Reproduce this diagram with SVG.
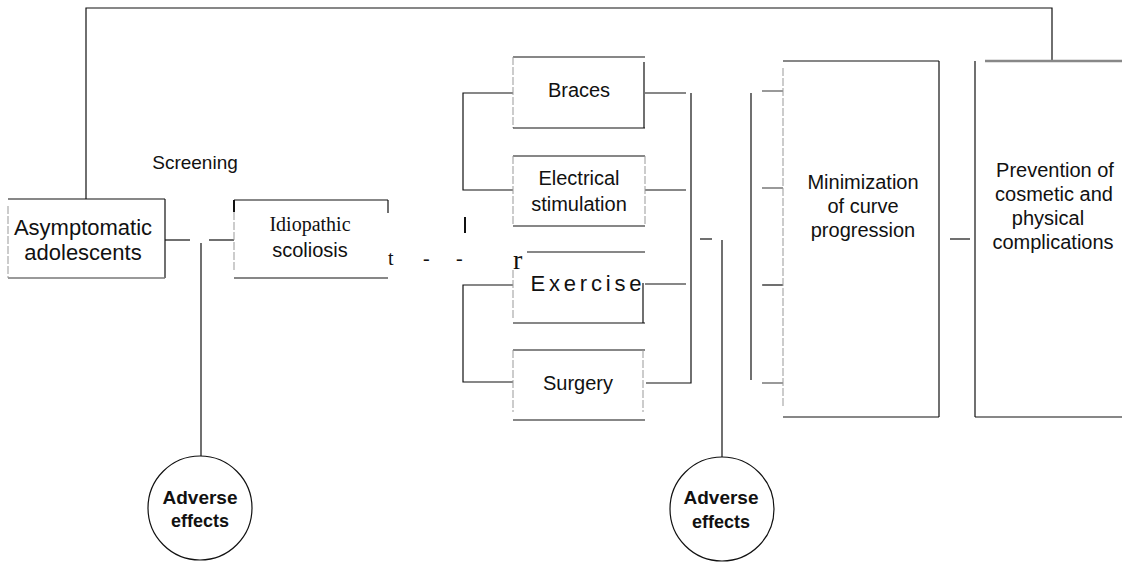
<svg xmlns="http://www.w3.org/2000/svg" width="1122" height="563" viewBox="0 0 1122 563">
<defs>
<style>
.ln{fill:none;stroke:#111;stroke-width:1.2}
.gl{fill:none;stroke:#777;stroke-width:1.5}
.fl{fill:none;stroke:#999;stroke-width:1;stroke-dasharray:8 2}
.t{font-family:"Liberation Sans",Arial,sans-serif;fill:#111;text-anchor:middle}
.s{font-family:"Liberation Serif","Times New Roman",serif;fill:#111}
.c{fill:#fff;stroke:#111;stroke-width:1.2}
.b{font-family:"Liberation Sans",Arial,sans-serif;font-weight:bold;font-size:19px;fill:#111;text-anchor:middle}
</style>
</defs>
<rect width="1122" height="563" fill="#fff"/>
<g id="connectors">
<polyline class="ln" points="86,199 86,8 1052,8 1052,61"/>
<line class="ln" x1="165" y1="240" x2="190" y2="240"/>
<line class="ln" x1="209" y1="240" x2="234" y2="240"/>
<line class="ln" x1="201" y1="243" x2="201" y2="456"/>
<polyline class="ln" points="513,93 463,93 463,190 513,190"/>
<polyline class="ln" points="513,285 463,285 463,382 513,382"/>
<line class="ln" x1="645" y1="93" x2="686" y2="93"/>
<line class="ln" x1="645" y1="190" x2="686" y2="190"/>
<line class="ln" x1="645" y1="284" x2="686" y2="284"/>
<polyline class="ln" points="646,383 691,383 691,93"/>
<line class="ln" x1="700" y1="239" x2="712" y2="239"/>
<line class="ln" x1="722" y1="240" x2="722" y2="457"/>
<line class="ln" x1="751" y1="93" x2="751" y2="380"/>
<line class="gl" x1="762" y1="91" x2="783" y2="91"/>
<line class="gl" x1="762" y1="188" x2="783" y2="188"/>
<line class="ln" x1="762" y1="285" x2="783" y2="285"/>
<line class="gl" x1="762" y1="383" x2="783" y2="383"/>
<line class="ln" x1="950" y1="239" x2="970" y2="239"/>
<line x1="465" y1="217" x2="465" y2="233" stroke="#111" stroke-width="2"/>
</g>
<text class="t" x="195" y="169" font-size="19">Screening</text>
<text class="s" x="388" y="265" font-size="20">t</text>
<text class="s" x="423" y="265" font-size="20">-</text>
<text class="s" x="456" y="265" font-size="20">-</text>
<text class="s" x="513" y="269" font-size="28">r</text>
<g id="asymptomatic">
<line class="ln" x1="8" y1="199" x2="165" y2="199"/>
<line class="ln" x1="165" y1="199" x2="165" y2="278"/>
<line class="gl" x1="8" y1="278" x2="165" y2="278"/>
<line class="fl" x1="8" y1="206" x2="8" y2="278"/>
<text class="t" x="83" y="235" font-size="22">Asymptomatic</text>
<text class="t" x="83" y="260" font-size="22">adolescents</text>
</g>
<g id="idiopathic">
<line class="ln" x1="234" y1="200" x2="388" y2="200"/>
<line x1="234" y1="200" x2="234" y2="212" stroke="#111" stroke-width="2"/>
<line class="fl" x1="234" y1="212" x2="234" y2="272"/>
<line class="ln" x1="388" y1="200" x2="388" y2="213"/>
<line class="ln" x1="234" y1="278" x2="388" y2="278"/>
<text class="s" x="310" y="231" font-size="20" text-anchor="middle">Idiopathic</text>
<text class="t" x="310" y="257" font-size="20">scoliosis</text>
</g>
<g id="braces">
<line class="ln" x1="513" y1="57" x2="645" y2="57"/>
<line class="fl" x1="513" y1="57" x2="513" y2="128"/>
<line class="ln" x1="644" y1="62" x2="644" y2="128"/>
<line class="ln" x1="513" y1="128" x2="645" y2="128"/>
<text class="t" x="579" y="97" font-size="20">Braces</text>
</g>
<g id="electrical">
<line class="ln" x1="513" y1="156" x2="645" y2="156"/>
<line class="fl" x1="513" y1="156" x2="513" y2="226"/>
<line class="fl" x1="645" y1="156" x2="645" y2="226"/>
<line class="ln" x1="513" y1="226" x2="645" y2="226"/>
<text class="t" x="579" y="185" font-size="20">Electrical</text>
<text class="t" x="579" y="211" font-size="20">stimulation</text>
</g>
<g id="exercise">
<line class="ln" x1="527" y1="252" x2="645" y2="252"/>
<line class="fl" x1="513" y1="270" x2="513" y2="318"/>
<line class="ln" x1="643" y1="283" x2="643" y2="323"/>
<line class="ln" x1="513" y1="323" x2="645" y2="323"/>
<text class="t" x="586" y="291" font-size="22" textLength="111" lengthAdjust="spacing">Exercise</text>
</g>
<g id="surgery">
<line class="ln" x1="513" y1="350" x2="645" y2="350"/>
<line class="fl" x1="513" y1="350" x2="513" y2="412"/>
<line class="fl" x1="643" y1="350" x2="643" y2="412"/>
<line class="ln" x1="513" y1="420" x2="645" y2="420"/>
<text class="t" x="578" y="390" font-size="20">Surgery</text>
</g>
<g id="minimization">
<line class="ln" x1="783" y1="61" x2="939" y2="61"/>
<line class="fl" x1="783" y1="68" x2="783" y2="408"/>
<line class="ln" x1="939" y1="61" x2="939" y2="417"/>
<line class="ln" x1="783" y1="417" x2="939" y2="417"/>
<text class="t" x="863" y="189" font-size="20">Minimization</text>
<text class="t" x="863" y="213" font-size="20">of curve</text>
<text class="t" x="863" y="237" font-size="20">progression</text>
</g>
<g id="prevention">
<line x1="985" y1="61" x2="1122" y2="61" stroke="#888" stroke-width="2.5"/>
<line class="ln" x1="975" y1="61" x2="975" y2="417"/>
<line class="ln" x1="975" y1="417" x2="1122" y2="417"/>
<text class="t" x="1055" y="177" font-size="20">Prevention of</text>
<text class="t" x="1054" y="201" font-size="20">cosmetic and</text>
<text class="t" x="1048" y="225" font-size="20">physical</text>
<text class="t" x="1053" y="249" font-size="20">complications</text>
</g>
<g id="adverse1">
<circle class="c" cx="200" cy="508" r="52"/>
<text class="b" x="200" y="504">Adverse</text>
<text class="b" x="200" y="527" textLength="58" lengthAdjust="spacingAndGlyphs">effects</text>
</g>
<g id="adverse2">
<circle class="c" cx="722" cy="509" r="52"/>
<text class="b" x="721" y="504">Adverse</text>
<text class="b" x="721" y="528" textLength="58" lengthAdjust="spacingAndGlyphs">effects</text>
</g>
</svg>
